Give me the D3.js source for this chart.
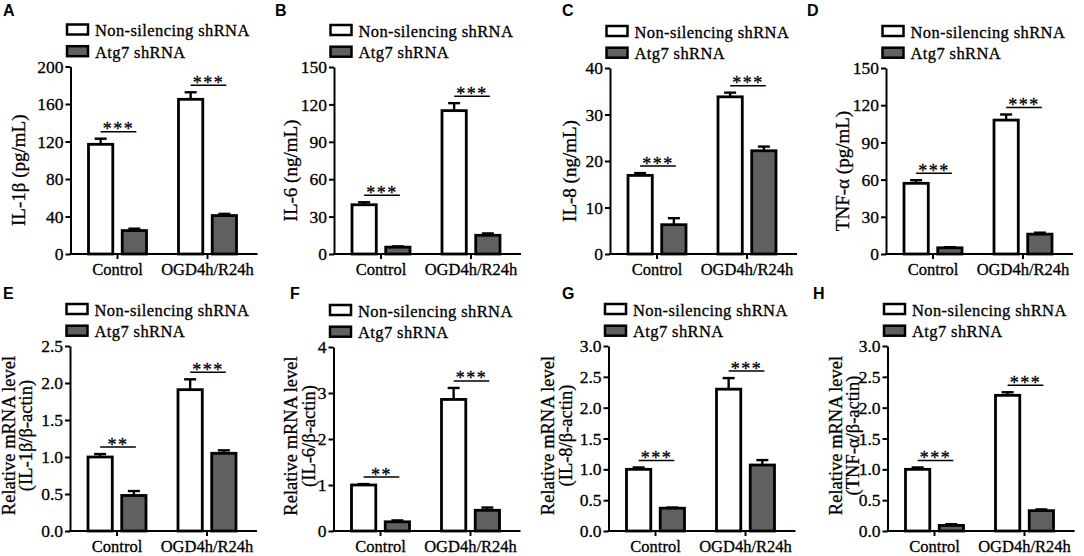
<!DOCTYPE html>
<html>
<head>
<meta charset="utf-8">
<script src="https://cdn.jsdelivr.net/npm/d3@7"></script>
<style>
  body { margin: 0; background: #fff; }
  svg { display: block; }
  .serif { font-family: "Liberation Serif", "Times New Roman", serif; fill: #000; stroke: #000; stroke-width: 0.3px; }
  .letter { font-family: "Liberation Sans", Arial, sans-serif; font-weight: bold; font-size: 16px; }
</style>
</head>
<body>
<script>
// DATA
//
var categories = ["Control", "OGD4h/R24h"];
var groups = ["Non-silencing shRNA", "Atg7 shRNA"];
var panelLetters = ["A", "B", "C", "D", "E", "F", "G", "H"];

var yTitles = [
  ["IL-1β (pg/mL)"],
  ["IL-6 (ng/mL)"],
  ["IL-8 (ng/mL)"],
  ["TNF-α (pg/mL)"],
  ["Relative mRNA level", "(IL-1β/β-actin)"],
  ["Relative mRNA level", "(IL-6/β-actin)"],
  ["Relative mRNA level", "(IL-8/β-actin)"],
  ["Relative mRNA level", "(TNF-α/β-actin)"]
];

var yTickValues = [
  [0, 40, 80, 120, 160, 200],
  [0, 30, 60, 90, 120, 150],
  [0, 10, 20, 30, 40],
  [0, 30, 60, 90, 120, 150],
  [0, 0.5, 1.0, 1.5, 2.0, 2.5],
  [0, 1, 2, 3, 4],
  [0, 0.5, 1.0, 1.5, 2.0, 2.5, 3.0],
  [0, 0.5, 1.0, 1.5, 2.0, 2.5, 3.0]
];
var yTickDecimals = [0, 0, 0, 0, 1, 0, 1, 1];

// [Control, OGD4h/R24h] for each panel
var nonSilencingMeans  = [[117, 165], [39.5, 115], [16.9, 33.8], [57, 108], [1.0, 1.91], [1.0, 2.86], [1.0, 2.3], [1.0, 2.2]];
var nonSilencingErrors = [[6, 7.5], [2, 6], [0.5, 0.9], [2.5, 4.5], [0.04, 0.14], [0.02, 0.25], [0.03, 0.18], [0.03, 0.05]];
var atg7Means  = [[25, 41], [5.5, 15], [6.3, 22.2], [5, 16], [0.48, 1.05], [0.2, 0.45], [0.37, 1.07], [0.09, 0.33]];
var atg7Errors = [[2, 1.8], [0.6, 1.5], [1.4, 0.9], [0.5, 1.2], [0.06, 0.04], [0.03, 0.06], [0.01, 0.08], [0.02, 0.02]];
var significance = [
  ["***", "***"], ["***", "***"], ["***", "***"], ["***", "***"],
  ["**", "***"], ["**", "***"], ["***", "***"], ["***", "***"]
];

// LAYOUT OF THE 8 PANELS (pixels)
//
var layout = [
  { ax: 70.5, top: 66.5, bottom: 254, letterX: 3,   letterY: 16,  titleX: 25 },
  { ax: 334,  top: 67,   bottom: 254, letterX: 275, letterY: 16,  titleX: 297 },
  { ax: 610,  top: 68,   bottom: 254, letterX: 562, letterY: 16,  titleX: 575.5 },
  { ax: 886,  top: 68,   bottom: 254, letterX: 807, letterY: 16,  titleX: 849 },
  { ax: 70,   top: 346,  bottom: 531, letterX: 3,   letterY: 299, titleX: 32 },
  { ax: 333.5,top: 347,  bottom: 531, letterX: 290, letterY: 299, titleX: 314.5 },
  { ax: 608.5,top: 346,  bottom: 531, letterX: 562, letterY: 299, titleX: 571.5 },
  { ax: 887.5,top: 346,  bottom: 531, letterX: 813, letterY: 299, titleX: 859 }
];

var width = 1084;
var height = 556;
var fills = ["#ffffff", "#606060"];

var svg = d3.select("body").append("svg")
  .attr("width", width)
  .attr("height", height);

function drawPanel(i) {

  var L = layout[i];
  var g = svg.append("g");

  var y = d3.scaleLinear()
    .domain([0, d3.max(yTickValues[i])])
    .range([L.bottom, L.top]);

  var x0 = d3.scaleBand()
    .domain(categories)
    .range([L.ax + 2, L.ax + 182])
    .padding(0);

  var x1 = d3.scaleBand()
    .domain(groups)
    .range([-29, 29])
    .paddingInner(0.28);

  // rows: one per bar
  var rows = [];
  categories.forEach(function(c, ci) {
    rows.push({ cat: c, grp: groups[0], v: nonSilencingMeans[i][ci], e: nonSilencingErrors[i][ci], k: 0 });
    rows.push({ cat: c, grp: groups[1], v: atg7Means[i][ci], e: atg7Errors[i][ci], k: 1 });
  });

  function cx(d) { return x0(d.cat) + x0.bandwidth() / 2 + x1(d.grp) + x1.bandwidth() / 2; }

  // error bars (above bars only)
  var capW = 12;
  var err = g.selectAll(".err").data(rows).enter().append("g");
  err.append("line")
    .attr("x1", cx).attr("x2", cx)
    .attr("y1", function(d) { return y(d.v); })
    .attr("y2", function(d) { return y(d.v + d.e); })
    .attr("stroke", "#000").attr("stroke-width", 2.4);
  err.append("line")
    .attr("x1", function(d) { return cx(d) - capW / 2; })
    .attr("x2", function(d) { return cx(d) + capW / 2; })
    .attr("y1", function(d) { return y(d.v + d.e); })
    .attr("y2", function(d) { return y(d.v + d.e); })
    .attr("stroke", "#000").attr("stroke-width", 2.4);

  // bars
  g.selectAll(".bar").data(rows).enter().append("rect")
    .attr("x", function(d) { return x0(d.cat) + x0.bandwidth() / 2 + x1(d.grp); })
    .attr("y", function(d) { return y(d.v); })
    .attr("width", x1.bandwidth())
    .attr("height", function(d) { return y(0) - y(d.v); })
    .attr("fill", function(d) { return fills[d.k]; })
    .attr("stroke", "#000")
    .attr("stroke-width", 2.8);

  // significance brackets
  categories.forEach(function(c, ci) {
    var a = rows[ci * 2], b = rows[ci * 2 + 1];
    var ly = y(Math.max(a.v + a.e, b.v + b.e)) - 7;
    var xa = cx(a), xb = cx(b);
    g.append("line")
      .attr("x1", xa).attr("x2", xb + 2)
      .attr("y1", ly).attr("y2", ly)
      .attr("stroke", "#000").attr("stroke-width", 1.5);
    g.append("text")
      .attr("class", "serif")
      .attr("x", (xa + xb) / 2 + 1)
      .attr("y", ly + 3.5)
      .attr("text-anchor", "middle")
      .style("font-size", "18px")
      .style("letter-spacing", "1.5px")
      .text(significance[i][ci]);
  });

  // y axis
  var fmt = d3.format("." + yTickDecimals[i] + "f");
  var yAxis = g.append("g")
    .attr("transform", "translate(" + L.ax + ",0)")
    .call(d3.axisLeft(y).tickValues(yTickValues[i]).tickFormat(fmt).tickSize(5).tickSizeOuter(0).tickPadding(2));
  yAxis.selectAll("path, line").attr("stroke", "#000").attr("stroke-width", 2);
  yAxis.selectAll("text").attr("class", "serif").style("font-size", "17.5px");

  // x axis
  var xAxis = g.append("g")
    .attr("transform", "translate(0," + L.bottom + ")")
    .call(d3.axisBottom(x0).tickSize(5).tickPadding(4).tickSizeOuter(0));
  xAxis.select(".domain").remove();
  xAxis.append("line")
    .attr("x1", L.ax - 1).attr("x2", L.ax + 187)
    .attr("y1", 0).attr("y2", 0)
    .attr("stroke", "#000").attr("stroke-width", 2);
  xAxis.selectAll(".tick line").attr("stroke", "#000").attr("stroke-width", 2);
  xAxis.selectAll("text").attr("class", "serif").style("font-size", "16.5px");

  // y title
  var midY = (L.top + L.bottom) / 2 + (i < 4 ? 10 : -3);
  var lines = yTitles[i];
  lines.forEach(function(t, li) {
    var bx = L.titleX - (lines.length - 1 - li) * 17.5;
    g.append("text")
      .attr("class", "serif")
      .attr("transform", "translate(" + bx + "," + midY + ") rotate(-90)")
      .attr("text-anchor", "middle")
      .style("font-size", i < 4 ? "19px" : "18.5px")
      .text(t);
  });

  // legend
  groups.forEach(function(name, k) {
    var ry = L.top - 42 + k * 21.7;
    g.append("rect")
      .attr("x", L.ax - 3.5).attr("y", ry)
      .attr("width", 21).attr("height", 10)
      .attr("fill", fills[k])
      .attr("stroke", "#000").attr("stroke-width", 2.5);
    g.append("text")
      .attr("class", "serif")
      .attr("x", L.ax + 24.5).attr("y", ry + 11.5)
      .style("font-size", "16.5px")
      .style("letter-spacing", "0.4px")
      .text(name);
  });

  // panel letter
  g.append("text")
    .attr("class", "letter")
    .attr("x", L.letterX).attr("y", L.letterY)
    .text(panelLetters[i]);
}

d3.range(8).forEach(drawPanel);
</script>
</body>
</html>
